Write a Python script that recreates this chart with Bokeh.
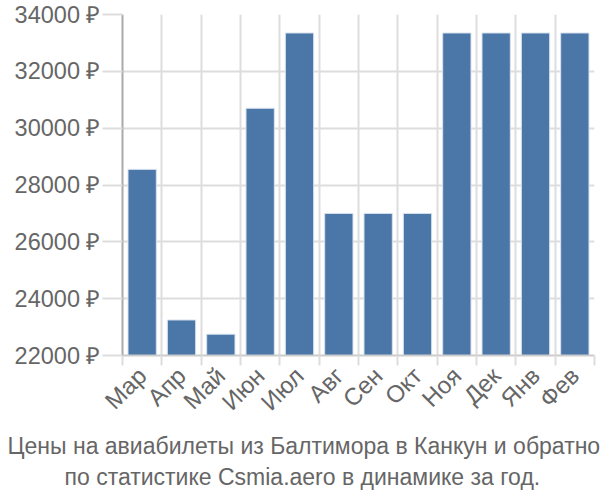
from bokeh.plotting import figure
from bokeh.models import Range1d, FixedTicker, PrintfTickFormatter, Title, ColumnDataSource
from bokeh.embed import file_html
from bokeh.resources import INLINE
import math

months = ["Мар", "Апр", "Май", "Июн", "Июл", "Авг", "Сен", "Окт", "Ноя", "Дек", "Янв", "Фев"]
prices = [28550, 23250, 22750, 30700, 33350, 27000, 27000, 27000, 33350, 33350, 33350, 33350]
y_ticks = [22000, 24000, 26000, 28000, 30000, 32000, 34000]
title_lines = ["Цены на авиабилеты из Балтимора в Канкун и обратно",
               "по статистике Csmia.aero в динамике за год."]
title_offsets = [-115, -58]
title_standoffs = [5, 1]

FONT = "Liberation Sans"
TXT = "#666666"
FS = "23.5px"
TFS = "23px"

xs = [i + 0.5 for i in range(len(months))]
src = ColumnDataSource(dict(x=xs, top=prices))

p = figure(width=600, height=500, output_backend="svg", toolbar_location=None,
           x_range=Range1d(0, len(months)), y_range=Range1d(y_ticks[0], y_ticks[-1]),
           min_border_left=122, min_border_right=6, min_border_top=14, min_border_bottom=145)
p.outline_line_color = None
p.background_fill_color = "white"
p.border_fill_color = "white"

p.vbar(x="x", top="top", bottom=y_ticks[0], width=0.72, source=src,
       fill_color="#4a76a8", line_color="#d8e2ee", line_width=1)

xa = p.xaxis[0]
xa.ticker = FixedTicker(ticks=xs, minor_ticks=list(range(len(months) + 1)))
xa.major_label_overrides = {x: m for x, m in zip(xs, months)}
xa.major_label_orientation = math.pi / 4
xa.major_tick_line_color = None
xa.minor_tick_line_color = "#dddddd"
xa.minor_tick_in = 0
xa.minor_tick_out = 10
xa.minor_tick_line_width = 2
xa.axis_line_color = "#cccccc"
xa.axis_line_width = 2
xa.major_label_text_font = FONT
xa.major_label_text_font_size = "24px"
xa.major_label_text_color = TXT
xa.major_label_standoff = 6

ya = p.yaxis[0]
ya.ticker = FixedTicker(ticks=y_ticks)
ya.formatter = PrintfTickFormatter(format="%d ₽")
ya.minor_tick_line_color = None
ya.major_tick_line_color = "#dddddd"
ya.major_tick_line_width = 2
ya.major_tick_in = 0
ya.major_tick_out = 20
ya.axis_line_color = "#aaaaaa"
ya.axis_line_width = 2
ya.major_label_text_font = FONT
ya.major_label_text_font_size = FS
ya.major_label_text_color = TXT
ya.major_label_standoff = 2

p.xgrid.ticker = FixedTicker(ticks=list(range(len(months) + 1)))
p.xgrid.grid_line_color = "#dddddd"
p.xgrid.grid_line_width = 2
p.ygrid.grid_line_color = "#dddddd"
p.ygrid.grid_line_width = 2

for t, off, so in zip(title_lines, title_offsets, title_standoffs):
    p.add_layout(Title(text=t, align="left", offset=off, text_font=FONT,
                       text_font_size=TFS, text_color=TXT, text_font_style="normal",
                       standoff=so), "below")

open("out.html", "w").write(file_html(p, INLINE))
